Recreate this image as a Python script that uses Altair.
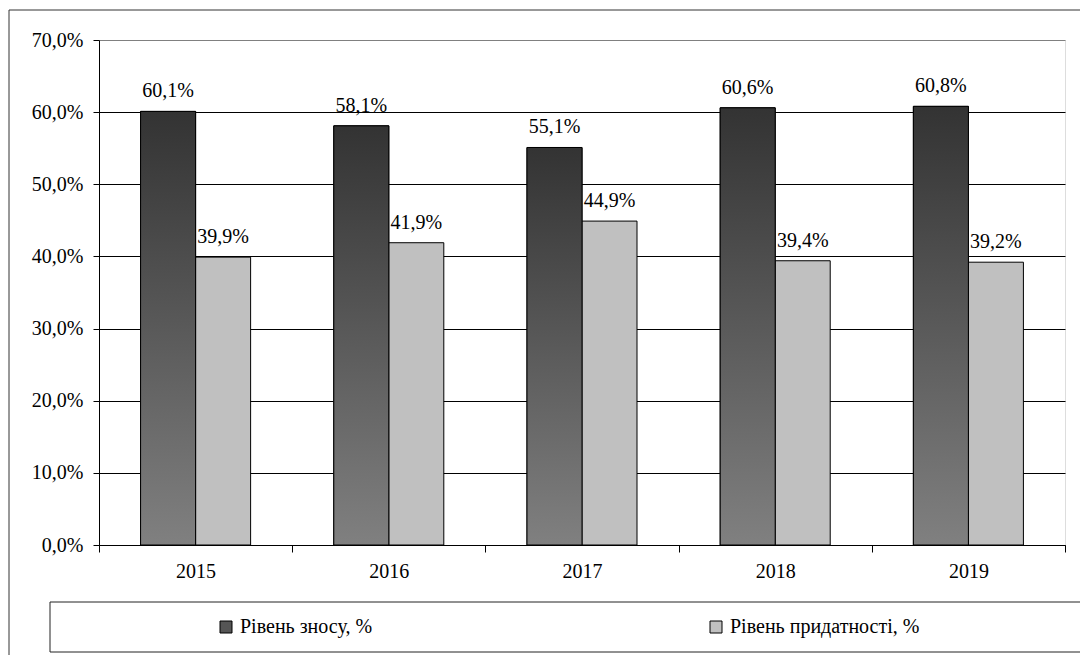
import altair as alt
import pandas as pd

years = ["2015", "2016", "2017", "2018", "2019"]
wear = [60.1, 58.1, 55.1, 60.6, 60.8]
fitness = [39.9, 41.9, 44.9, 39.4, 39.2]
series = ["Рівень зносу, %", "Рівень придатності, %"]
y_ticks = [0, 10, 20, 30, 40, 50, 60, 70]

rows = []
for i, yr in enumerate(years):
    rows.append({"year": yr, "series": series[0], "value": wear[i]})
    rows.append({"year": yr, "series": series[1], "value": fitness[i]})
df = pd.DataFrame(rows)
df["label"] = df["value"].map(lambda v: f"{v:.1f}%".replace(".", ","))

FONT = "Liberation Serif"
W, H = 966, 505

x_enc = alt.X(
    "year:N", sort=years, title=None,
    scale=alt.Scale(paddingInner=0, paddingOuter=0),
    axis=alt.Axis(tickBand="extent", labelAngle=0, tickSize=7, labelPadding=9,
                  domainColor="black", tickColor="black", labelFont=FONT,
                  labelFontSize=20, labelColor="black", grid=False),
)
xo_enc = alt.XOffset("series:N", sort=series,
                     scale=alt.Scale(paddingInner=0, paddingOuter=0.756))
y_enc = alt.Y(
    "value:Q", title=None,
    scale=alt.Scale(domain=[0, 70], nice=False),
    axis=alt.Axis(values=y_ticks,
                  labelExpr="replace(format(datum.value, '.1f'), '.', ',') + '%'",
                  tickSize=6, labelPadding=10, domainColor="black", tickColor="black",
                  labelFont=FONT, labelFontSize=20, labelColor="black",
                  grid=True, gridWidth=1,
                  gridColor={"condition": {"test": "datum.value >= 70", "value": "#808080"},
                             "value": "#000000"}),
)

base = alt.Chart(df)

bars = base.mark_bar(stroke="black", strokeWidth=1).encode(
    x=x_enc, xOffset=xo_enc, y=y_enc,
    color=alt.Color("series:N", sort=series,
                    scale=alt.Scale(domain=series, range=["#555555", "#c0c0c0"]),
                    legend=alt.Legend(title=None, orient="none", legendX=117, legendY=577,
                                      direction="horizontal", columns=2, columnPadding=333,
                                      symbolType="square", symbolSize=144,
                                      symbolStrokeColor="black", symbolStrokeWidth=1,
                                      labelFont=FONT, labelFontSize=20, labelColor="black",
                                      labelLimit=400, labelOffset=4, padding=0)),
)

grad = alt.Gradient(
    gradient="linear",
    stops=[alt.GradientStop(color="#333333", offset=0),
           alt.GradientStop(color="#808080", offset=1)],
    x1=0, x2=0, y1=0, y2=1,
)
dark = base.transform_filter(alt.datum.series == series[0]).mark_bar(
    fill=grad, stroke="black", strokeWidth=1
).encode(x=x_enc, xOffset=xo_enc, y=y_enc)

labels = base.mark_text(font=FONT, fontSize=20, dy=-14, baseline="alphabetic",
                        color="black").encode(
    x=x_enc, xOffset=xo_enc, y=y_enc, text="label:N")

one = pd.DataFrame({"k": [0]})
frame_top = alt.Chart(one).mark_rule(color="#333333", strokeWidth=1).encode(
    x=alt.value(-90), x2=alt.value(995), y=alt.value(-30))
frame_left = alt.Chart(one).mark_rule(color="#333333", strokeWidth=1).encode(
    x=alt.value(-90), y=alt.value(-30), y2=alt.value(630))
legend_box = alt.Chart(one).mark_rect(fillOpacity=0, stroke="#222222", strokeWidth=1).encode(
    x=alt.value(-49), x2=alt.value(982), y=alt.value(562), y2=alt.value(612))

chart = alt.layer(frame_top, frame_left, legend_box, bars, dark, labels).properties(
    width=W, height=H, autosize="none",
    padding={"left": 91, "top": 32, "right": 15, "bottom": 110},
).configure_view(stroke="#808080", strokeWidth=1).configure(background="white")

chart.save("out.html", embed_options={"renderer": "svg", "actions": False})
